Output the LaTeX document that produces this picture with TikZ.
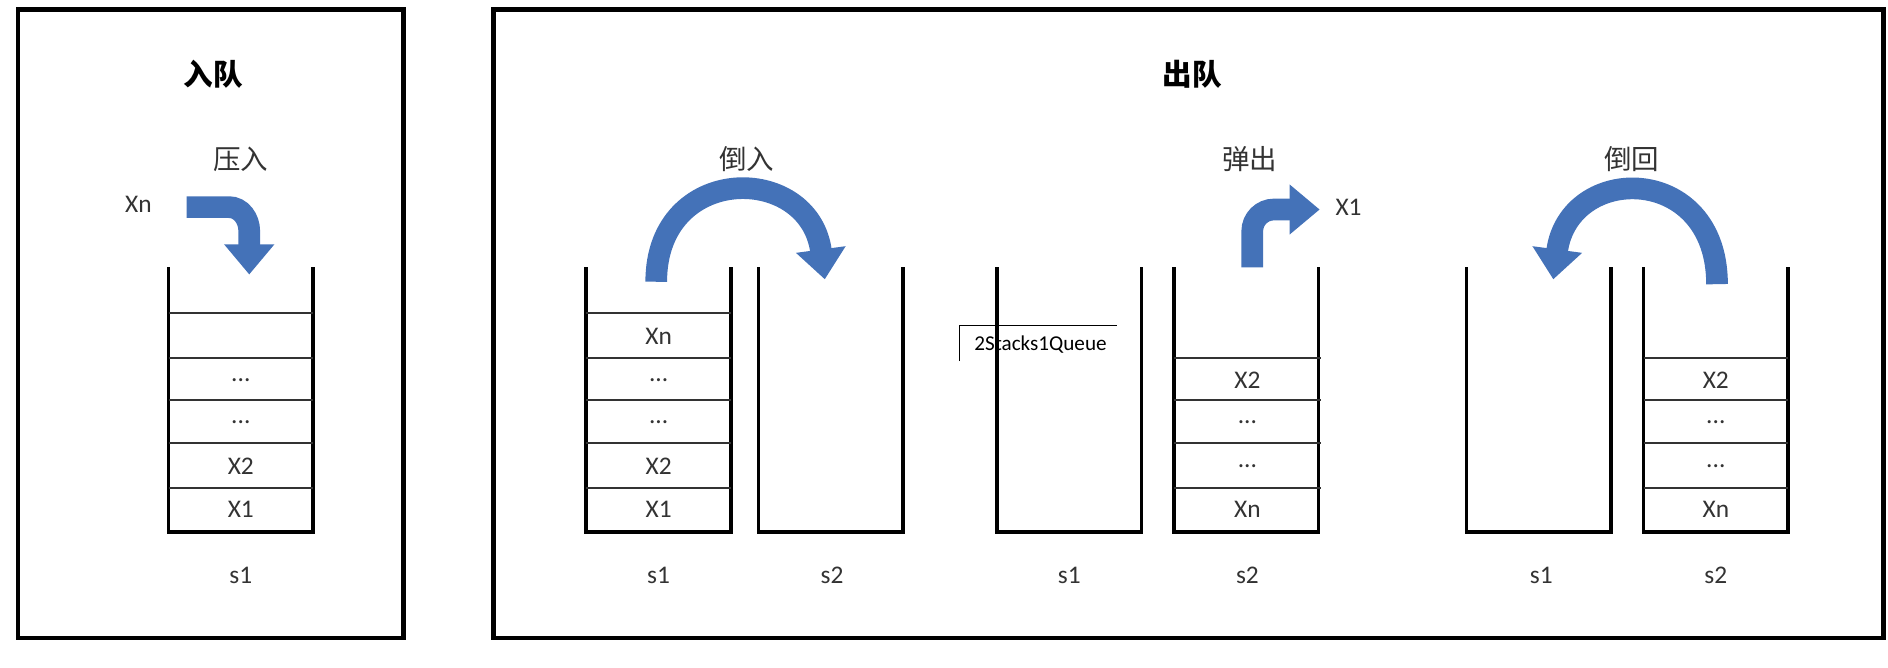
\documentclass[tikz,border=0pt]{standalone}
\usepackage{fontspec}
\setmainfont{Carlito}
\newfontfamily\cjk{Noto Sans CJK SC}
\usetikzlibrary{arrows.meta}
\definecolor{ablue}{HTML}{4472B8}
\definecolor{txt}{HTML}{333333}
\tikzset{
  frame/.style={draw=black,line width=2.2pt},
  wall/.style={draw=black,line width=1.8pt},
  cell/.style={draw=black!80,line width=0.9pt},
  lbl/.style={font=\fontsize{12}{14}\selectfont,text=txt},
  ttl/.style={font=\cjk\bfseries\fontsize{14}{16}\selectfont},
  cn/.style={font=\cjk\fontsize{13}{15}\selectfont,text=txt},
  bigarrow/.style={draw=ablue,line width=0.36cm,-{Triangle[length=0.5cm,width=0.8cm]}}
}
% stack: #1 left x, #2 name
\newcommand{\mystack}[2]{%
  \draw[wall] (#1,222) -- (#1,442) -- (#1+120,442) -- (#1+120,222);
  \coordinate (#2) at (#1+60,442);
}
\begin{document}
\begin{tikzpicture}[x=0.02cm,y=-0.02cm]
\useasboundingbox (0,0) rectangle (1568,554);
\draw[frame] (15,8) rectangle (335,530);
\draw[frame] (410,8) rectangle (1564,530);
\node[ttl] (t1) at (177,62) {入队};
\node[ttl] (t2) at (990,62) {出队};
% left
\node[cn] (ya) at (200,132) {压入};
\node[lbl] (xn) at (115,170) {Xn};
\mystack{140}{L}
\foreach \y in {260,297,332,368,405} \draw[cell] (140,\y) -- (260,\y);
\node[lbl] at (200,316) {...};
\node[lbl] at (200,351) {...};
\node[lbl] at (200,387) {X2};
\node[lbl] at (200,423) {X1};
\node[lbl] (Ls) at (200,478) {s1};
\draw[bigarrow] (155,172) -- (190,172) to[out=0,in=90] (207,192) -- (207,228);
% A
\node[cn] (dr) at (620,132) {倒入};
\mystack{487}{A1}
\mystack{630}{A2}
\foreach \y in {260,297,332,368,405} \draw[cell] (487,\y) -- (607,\y);
\node[lbl] at (547,279) {Xn};
\node[lbl] at (547,316) {...};
\node[lbl] at (547,351) {...};
\node[lbl] at (547,387) {X2};
\node[lbl] at (547,423) {X1};
\node[lbl] at (547,478) {s1};
\node[lbl] at (691,478) {s2};
\draw[bigarrow] (545,234) .. controls (545,135) and (672,135) .. (685,232);
% B
\node[cn] (tc) at (1038,132) {弹出};
\node[lbl] (x1) at (1120,172) {X1};
\mystack{828}{B1}
\mystack{975}{B2}
\foreach \y in {297,332,368,405} \draw[cell] (975,\y) -- (1097,\y);
\node[lbl] at (1036,316) {X2};
\node[lbl] at (1036,351) {...};
\node[lbl] at (1036,387) {...};
\node[lbl] at (1036,423) {Xn};
\node[lbl] at (888,478) {s1};
\node[lbl] at (1036,478) {s2};
\draw[bigarrow] (1040,222) -- (1040,192) to[out=90,in=180] (1058,174) -- (1096,174);
% C
\node[cn] (dh) at (1355,132) {倒回};
\mystack{1218}{C1}
\mystack{1365}{C2}
\foreach \y in {297,332,368,405} \draw[cell] (1365,\y) -- (1485,\y);
\node[lbl] at (1425,316) {X2};
\node[lbl] at (1425,351) {...};
\node[lbl] at (1425,387) {...};
\node[lbl] at (1425,423) {Xn};
\node[lbl] at (1280,478) {s1};
\node[lbl] at (1425,478) {s2};
\draw[bigarrow] (1426,236) .. controls (1426,135) and (1303,135) .. (1290,232);
% tooltip box
\draw[line width=0.5pt] (797,300) -- (797,270) -- (928,270);
\node[font=\fontsize{10}{12}\selectfont,anchor=west] (tip) at (803,286) {2Stacks1Queue};
\end{tikzpicture}
\end{document}
